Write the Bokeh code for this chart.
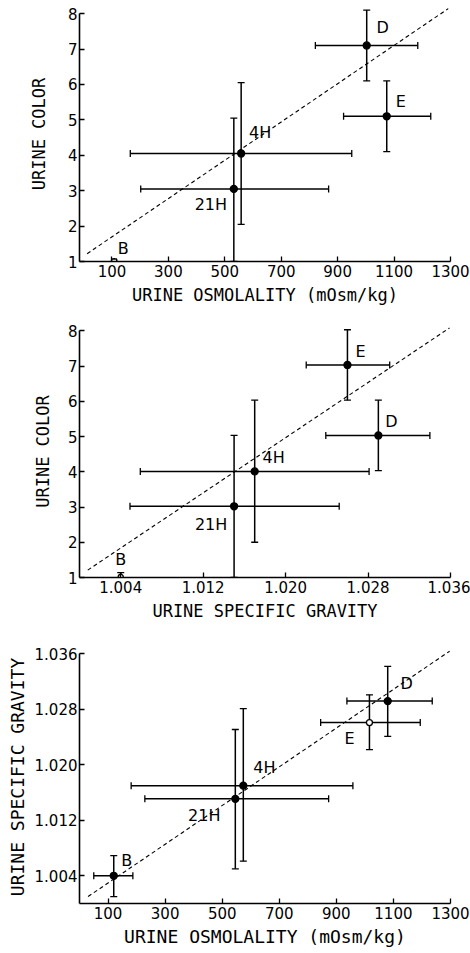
from bokeh.plotting import figure
from bokeh.models import ColumnDataSource, Whisker, TeeHead, FixedTicker, LabelSet, Range1d, NumeralTickFormatter
from bokeh.layouts import column
from bokeh.core.properties import value
from bokeh.embed import file_html
from bokeh.resources import INLINE

groups = ["B", "21H", "4H", "D", "E"]

# Panel 1: urine osmolality vs urine color
osm1 = [108, 532, 558, 1003, 1074]
osm1_lo = [108, 202, 165, 821, 921]
osm1_hi = [108, 868, 950, 1184, 1230]
col1 = [1.0, 3.05, 4.05, 7.1, 5.1]
col1_lo = [1.0, 1.0, 2.05, 6.1, 4.1]
col1_hi = [1.0, 5.05, 6.05, 8.1, 6.1]
fit1_x = [12, 1292]
fit1_y = [1.22, 8.14]

# Panel 2: urine specific gravity vs urine color
sg2 = [1.004, 1.015, 1.017, 1.029, 1.026]
sg2_lo = [1.004, 1.0049, 1.0059, 1.0239, 1.0220]
sg2_hi = [1.004, 1.0252, 1.0281, 1.0340, 1.0301]
col2 = [1.02, 3.02, 4.01, 5.03, 7.03]
col2_lo = [0.96, 1.0, 2.0, 4.03, 6.03]
col2_hi = [1.14, 5.03, 6.03, 6.03, 8.03]
fit2_x = [1.0008, 1.0359]
fit2_y = [1.21, 8.08]

# Panel 3: urine osmolality vs urine specific gravity
osm3 = [120, 546, 574, 1080, 1016]
osm3_lo = [50, 229, 181, 937, 845]
osm3_hi = [187, 873, 958, 1236, 1194]
sg3 = [1.0040, 1.0151, 1.0170, 1.0292, 1.0261]
sg3_lo = [1.0010, 1.0050, 1.0061, 1.0241, 1.0222]
sg3_hi = [1.0069, 1.0251, 1.0281, 1.0342, 1.0301]
fit3_x = [30, 1297]
fit3_y = [1.0010, 1.0364]

osm_ticks = [100, 300, 500, 700, 900, 1100, 1300]
color_ticks = [1, 2, 3, 4, 5, 6, 7, 8]
sg_ticks = [1.004, 1.012, 1.020, 1.028, 1.036]

TICK_FONT = "DejaVu Sans"
TITLE_FONT = "DejaVu Sans Mono"


def panel(x, xlo, xhi, y, ylo, yhi, fx, fy, xr, yr, xb, yb, xt, yt,
          xlab, ylab, h, borders, offs, markers, fills, msizes,
          xfmt=None, yfmt=None, title_size="17px", ylab_standoff=14,
          xlab_standoff=5):
    p = figure(width=470, height=h, output_backend="svg", toolbar_location=None,
               x_range=Range1d(*xr), y_range=Range1d(*yr),
               min_border_left=borders[0], min_border_right=borders[1],
               min_border_top=borders[2], min_border_bottom=borders[3])
    p.outline_line_color = None
    p.grid.visible = False
    src = ColumnDataSource(dict(x=x, xlo=xlo, xhi=xhi, y=y, ylo=ylo, yhi=yhi,
                                name=groups, dx=[o[0] for o in offs],
                                dy=[o[1] for o in offs], m=markers, f=fills, s=msizes))
    p.line(fx, fy, line_dash="4 3", line_color="black", line_width=1.1)
    p.add_layout(Whisker(base="y", lower="xlo", upper="xhi", dimension="width", source=src,
                         line_width=1.5, line_color="black",
                         upper_head=TeeHead(size=7, line_width=1.3),
                         lower_head=TeeHead(size=7, line_width=1.3)))
    p.add_layout(Whisker(base="x", lower="ylo", upper="yhi", dimension="height", source=src,
                         line_width=1.5, line_color="black",
                         upper_head=TeeHead(size=7, line_width=1.3),
                         lower_head=TeeHead(size=7, line_width=1.3)))
    p.scatter("x", "y", source=src, marker="m", size="s", fill_color="f",
              line_color="black", line_width=1.3)
    p.add_layout(LabelSet(x="x", y="y", text="name", x_offset="dx", y_offset="dy",
                          source=src, text_align="center", text_baseline="middle",
                          text_font=value("DejaVu Sans"), text_font_size="16px",
                          text_color="black"))
    for ax, ticks, bounds, lab, fmt in ((p.xaxis[0], xt, xb, xlab, xfmt),
                                        (p.yaxis[0], yt, yb, ylab, yfmt)):
        ax.ticker = FixedTicker(ticks=ticks, minor_ticks=[])
        ax.bounds = bounds
        ax.axis_label = lab
        ax.axis_line_width = 1.6
        ax.axis_line_color = "black"
        ax.major_tick_in = 5
        ax.major_tick_out = 0
        ax.major_tick_line_width = 1.3
        ax.minor_tick_in = 0
        ax.minor_tick_out = 0
        ax.major_label_text_font = TICK_FONT
        ax.major_label_text_font_size = "15px"
        ax.major_label_text_color = "black"
        ax.major_label_standoff = 3
        ax.axis_label_text_font = TITLE_FONT
        ax.axis_label_text_font_style = "normal"
        ax.axis_label_text_font_size = title_size
        ax.axis_label_text_color = "black"
        if fmt:
            ax.formatter = NumeralTickFormatter(format=fmt)
    p.xaxis.axis_label_standoff = xlab_standoff
    p.yaxis.axis_label_standoff = ylab_standoff
    p.yaxis.major_label_standoff = 2
    return p


p1 = panel(osm1, osm1_lo, osm1_hi, col1, col1_lo, col1_hi, fit1_x, fit1_y,
           (-15, 1300), (1, 8.2), (-15, 1300), (1, 8), osm_ticks, color_ticks,
           "URINE OSMOLALITY (mOsm/kg)", "URINE COLOR", 320, (76, 19, 6, 59),
           [(9, 13), (-23, -16), (19, 21), (16, 18), (14, 15)],
           ["square", "circle", "circle", "circle", "circle"],
           ["white", "black", "black", "black", "black"],
           [5, 7, 7, 7, 7], ylab_standoff=16)

p2 = panel(sg2, sg2_lo, sg2_hi, col2, col2_lo, col2_hi, fit2_x, fit2_y,
           (1.000, 1.036), (1, 8.15), (1.000, 1.036), (1, 8), sg_ticks, color_ticks,
           "URINE SPECIFIC GRAVITY", "URINE COLOR", 320, (79, 19, 5, 63),
           [(0, 17), (-23, -18), (19, 14), (13, 14), (13, 13)],
           ["circle", "circle", "circle", "circle", "circle"],
           ["white", "black", "black", "black", "black"],
           [5, 7, 7, 7, 7], xfmt="0.000", ylab_standoff=12)

p3 = panel(osm3, osm3_lo, osm3_hi, sg3, sg3_lo, sg3_hi, fit3_x, fit3_y,
           (0, 1300), (1.000, 1.0365), (0, 1300), (1.000, 1.036), osm_ticks, sg_ticks,
           "URINE OSMOLALITY (mOsm/kg)", "URINE SPECIFIC GRAVITY", 313, (77, 20, 10, 50),
           [(13, 15), (-31, -17), (21, 18), (19, 18), (-20, -16)],
           ["circle", "circle", "circle", "circle", "circle"],
           ["black", "black", "black", "black", "white"],
           [7, 7, 7, 7, 6], yfmt="0.000", title_size="18px", ylab_standoff=4,
           xlab_standoff=4)

layout = column(p1, p2, p3, spacing=0)
open("out.html", "w").write(file_html(layout, INLINE))
